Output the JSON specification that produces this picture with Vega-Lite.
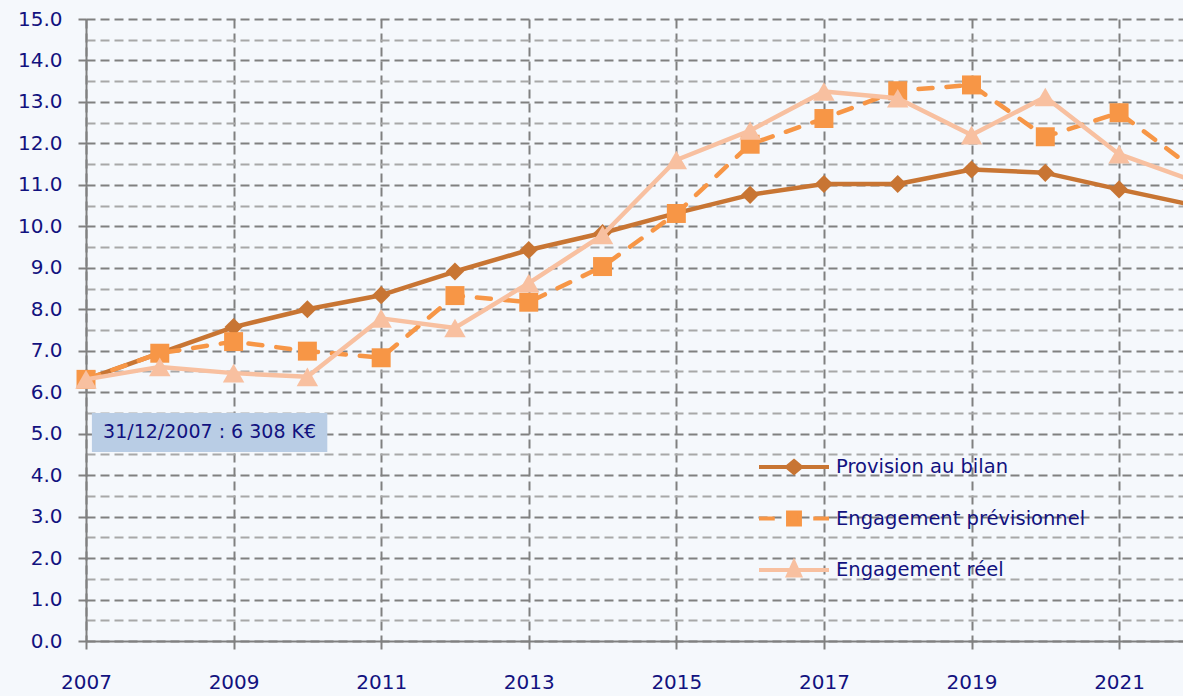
{
  "$schema": "https://vega.github.io/schema/vega-lite/v6.json",
  "autosize": {"type": "none"},
  "padding": {"left": 86, "top": 19, "right": 0, "bottom": 55},
  "width": 1097,
  "height": 622,
  "background": "#f5f8fc",
  "config": {
    "view": {"stroke": null},
    "font": "DejaVu Sans"
  },
  "data": {
    "values": [
      {"year": 2007, "series": "Provision au bilan", "value": 6.31},
      {"year": 2008, "series": "Provision au bilan", "value": 6.94},
      {"year": 2009, "series": "Provision au bilan", "value": 7.57},
      {"year": 2010, "series": "Provision au bilan", "value": 8.0},
      {"year": 2011, "series": "Provision au bilan", "value": 8.34},
      {"year": 2012, "series": "Provision au bilan", "value": 8.91},
      {"year": 2013, "series": "Provision au bilan", "value": 9.43},
      {"year": 2014, "series": "Provision au bilan", "value": 9.84},
      {"year": 2015, "series": "Provision au bilan", "value": 10.32},
      {"year": 2016, "series": "Provision au bilan", "value": 10.76},
      {"year": 2017, "series": "Provision au bilan", "value": 11.02},
      {"year": 2018, "series": "Provision au bilan", "value": 11.02},
      {"year": 2019, "series": "Provision au bilan", "value": 11.37},
      {"year": 2020, "series": "Provision au bilan", "value": 11.29},
      {"year": 2021, "series": "Provision au bilan", "value": 10.89},
      {"year": 2022, "series": "Provision au bilan", "value": 10.51},
      {"year": 2007, "series": "Engagement prévisionnel", "value": 6.31},
      {"year": 2008, "series": "Engagement prévisionnel", "value": 6.94},
      {"year": 2009, "series": "Engagement prévisionnel", "value": 7.22},
      {"year": 2010, "series": "Engagement prévisionnel", "value": 6.99},
      {"year": 2011, "series": "Engagement prévisionnel", "value": 6.83},
      {"year": 2012, "series": "Engagement prévisionnel", "value": 8.33},
      {"year": 2013, "series": "Engagement prévisionnel", "value": 8.17},
      {"year": 2014, "series": "Engagement prévisionnel", "value": 9.03},
      {"year": 2015, "series": "Engagement prévisionnel", "value": 10.31},
      {"year": 2016, "series": "Engagement prévisionnel", "value": 11.98},
      {"year": 2017, "series": "Engagement prévisionnel", "value": 12.6},
      {"year": 2018, "series": "Engagement prévisionnel", "value": 13.27},
      {"year": 2019, "series": "Engagement prévisionnel", "value": 13.41},
      {"year": 2020, "series": "Engagement prévisionnel", "value": 12.16},
      {"year": 2021, "series": "Engagement prévisionnel", "value": 12.74},
      {"year": 2022, "series": "Engagement prévisionnel", "value": 11.4},
      {"year": 2007, "series": "Engagement réel", "value": 6.31},
      {"year": 2008, "series": "Engagement réel", "value": 6.61},
      {"year": 2009, "series": "Engagement réel", "value": 6.46},
      {"year": 2010, "series": "Engagement réel", "value": 6.37},
      {"year": 2011, "series": "Engagement réel", "value": 7.78},
      {"year": 2012, "series": "Engagement réel", "value": 7.55},
      {"year": 2013, "series": "Engagement réel", "value": 8.63},
      {"year": 2014, "series": "Engagement réel", "value": 9.79},
      {"year": 2015, "series": "Engagement réel", "value": 11.6},
      {"year": 2016, "series": "Engagement réel", "value": 12.31},
      {"year": 2017, "series": "Engagement réel", "value": 13.25},
      {"year": 2018, "series": "Engagement réel", "value": 13.09},
      {"year": 2019, "series": "Engagement réel", "value": 12.2},
      {"year": 2020, "series": "Engagement réel", "value": 13.12},
      {"year": 2021, "series": "Engagement réel", "value": 11.74},
      {"year": 2022, "series": "Engagement réel", "value": 11.1}
    ]
  },
  "encoding": {
    "x": {
      "field": "year", "type": "quantitative",
      "scale": {"domain": [2007, 2021.866], "nice": false, "zero": false},
      "axis": {
        "title": null,
        "values": [2007, 2009, 2011, 2013, 2015, 2017, 2019, 2021],
        "format": "d",
        "grid": true, "gridColor": "#808080", "gridDash": [9, 5], "gridWidth": 2,
        "domainColor": "#808080", "domainWidth": 2,
        "tickColor": "#808080", "tickWidth": 2, "tickSize": 8,
        "labelFont": "DejaVu Sans", "labelFontSize": 20, "labelColor": "#12127f",
        "labelPadding": 23, "labelBaseline": "top", "labelOverlap": false, "labelFlush": false
      }
    },
    "y": {
      "field": "value", "type": "quantitative",
      "scale": {"domain": [0, 15], "nice": false},
      "axis": {
        "title": null,
        "values": [0, 0.5, 1, 1.5, 2, 2.5, 3, 3.5, 4, 4.5, 5, 5.5, 6, 6.5, 7, 7.5, 8, 8.5, 9, 9.5, 10, 10.5, 11, 11.5, 12, 12.5, 13, 13.5, 14, 14.5, 15],
        "labelExpr": "datum.value % 1 === 0 ? format(datum.value, '.1f') : ''",
        "grid": true,
        "gridColor": {"condition": {"test": "datum.value % 1 !== 0", "value": "#a8a8a8"}, "value": "#808080"},
        "gridDash": [9, 5], "gridWidth": 2,
        "domainColor": "#808080", "domainWidth": 2,
        "tickColor": "#808080", "tickWidth": 2,
        "tickSize": {"condition": {"test": "datum.value % 1 !== 0", "value": 0}, "value": 8},
        "labelFont": "DejaVu Sans", "labelFontSize": 20, "labelColor": "#12127f",
        "labelPadding": 16, "labelOverlap": false, "labelFlush": false
      }
    }
  },
  "layer": [
    {
      "transform": [{"filter": "datum.year === 2007 && datum.series === 'Provision au bilan'"}],
      "mark": {"type": "rect", "fill": "#b9cde5"},
      "encoding": {
        "x": {"datum": 2007.08, "type": "quantitative"}, "x2": {"datum": 2010.27},
        "y": {"datum": 4.56, "type": "quantitative"}, "y2": {"datum": 5.5}
      }
    },
    {
      "transform": [{"filter": "datum.year === 2007 && datum.series === 'Provision au bilan'"}],
      "mark": {"type": "text", "text": "31/12/2007 : 6 308 K€", "font": "DejaVu Sans", "fontSize": 19, "color": "#12127f", "align": "center", "baseline": "middle"},
      "encoding": {"x": {"datum": 2008.675, "type": "quantitative"}, "y": {"datum": 5.03, "type": "quantitative"}}
    },
    {
      "transform": [{"filter": "datum.series === 'Provision au bilan'"}],
      "layer": [
        {"mark": {"type": "line", "color": "#c87533", "strokeWidth": 4.5, "strokeJoin": "round"}},
        {"mark": {"type": "point", "shape": "diamond", "filled": true, "color": "#c87533", "opacity": 1, "size": 330}}
      ]
    },
    {
      "transform": [{"filter": "datum.series === 'Engagement prévisionnel'"}],
      "layer": [
        {"mark": {"type": "line", "color": "#f79646", "strokeWidth": 4.5, "strokeDash": [14, 14], "strokeCap": "round"}},
        {"mark": {"type": "point", "shape": "square", "filled": true, "color": "#f79646", "opacity": 1, "size": 360}}
      ]
    },
    {
      "transform": [{"filter": "datum.series === 'Engagement réel'"}],
      "layer": [
        {"mark": {"type": "line", "color": "#f8c0a0", "strokeWidth": 4.5, "strokeJoin": "round"}},
        {"mark": {"type": "point", "shape": "triangle-up", "filled": true, "color": "#f8c0a0", "opacity": 1, "size": 460}}
      ]
    },
    {
      "mark": {"type": "point", "filled": true, "opacity": 0, "size": 4900},
      "encoding": {
        "color": {
          "field": "series", "type": "nominal",
          "scale": {"domain": ["Provision au bilan", "Engagement prévisionnel", "Engagement réel"], "range": ["#c87533", "#f79646", "#f8c0a0"]},
          "legend": {
            "title": null, "orient": "none", "legendX": 671, "legendY": 433,
            "padding": 0, "symbolSize": 4900, "symbolStrokeWidth": 4, "symbolOpacity": 1,
            "labelFont": "DejaVu Sans", "labelFontSize": 19.5, "labelColor": "#12127f", "labelOffset": 5, "labelLimit": 400,
            "rowPadding": 21.5, "clipHeight": 30,
            "encode": {"symbols": {"update": {"stroke": {"scale": "color", "field": "value"}, "opacity": {"value": 1}, "strokeWidth": {"value": 4}}}}
          }
        },
        "shape": {
          "field": "series", "type": "nominal",
          "scale": {"domain": ["Provision au bilan", "Engagement prévisionnel", "Engagement réel"], "range": [
            "M-1,0H1M0,-0.17L0.2,0L0,0.17L-0.2,0Z",
            "M-1,0H-0.55M0.55,0H1M-0.17,-0.17H0.17V0.17H-0.17Z",
            "M-1,0H1M0,-0.22L0.17,0.16L-0.17,0.16Z"
          ]},
          "legend": {
            "title": null, "orient": "none", "legendX": 671, "legendY": 433,
            "padding": 0, "symbolSize": 4900, "symbolStrokeWidth": 4, "symbolOpacity": 1,
            "labelFont": "DejaVu Sans", "labelFontSize": 19.5, "labelColor": "#12127f", "labelOffset": 5, "labelLimit": 400,
            "rowPadding": 21.5, "clipHeight": 30,
            "encode": {"symbols": {"update": {"stroke": {"scale": "color", "field": "value"}, "opacity": {"value": 1}, "strokeWidth": {"value": 4}}}}
          }
        }
      }
    }
  ]
}
